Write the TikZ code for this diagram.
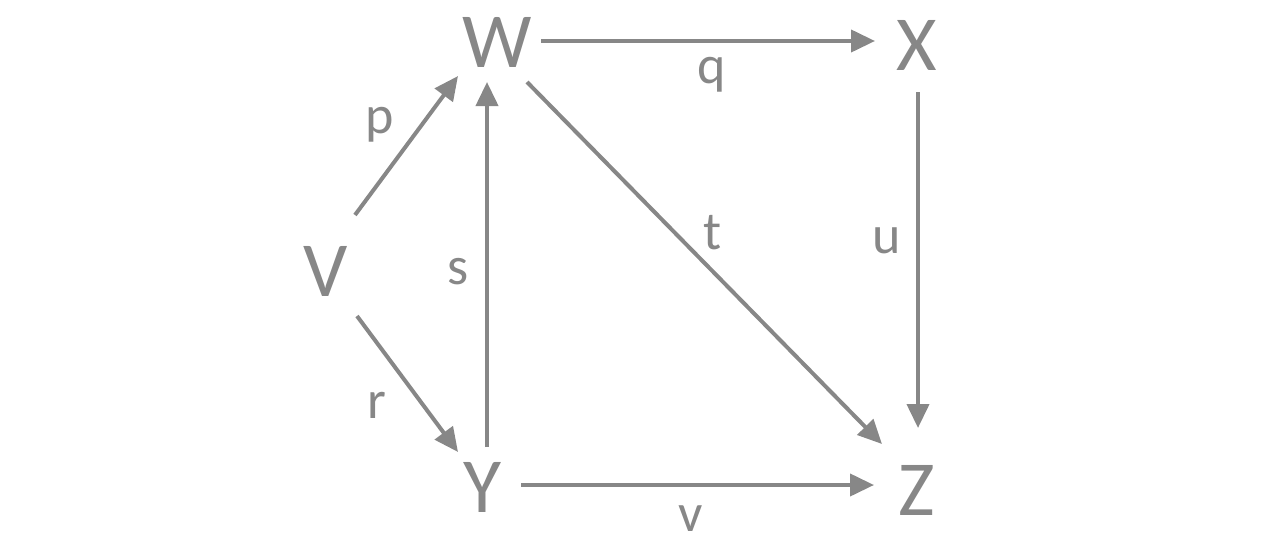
\documentclass[tikz,border=0pt]{standalone}
\usepackage{fontspec}
\setmainfont{Carlito}
\usetikzlibrary{arrows.meta,calc}
\definecolor{ink}{RGB}{135,135,135}
\begin{document}
\begin{tikzpicture}[x=1pt,y=-1pt,
  vert/.style={text=ink,inner sep=0pt,font=\fontsize{78}{80}\selectfont},
  lab/.style={text=ink,inner sep=0pt,font=\fontsize{54}{56}\selectfont},
  edge/.style={draw=ink,line width=4pt,-{Triangle[length=24pt,width=22pt]}}]
\useasboundingbox (0,0) rectangle (1274,546);
\node[vert] (W) at (497,42) {W};
\node[vert] (X) at (917,45) {X};
\node[vert] (V) at (326,271) {V};
\node[vert] (Y) at (482,487) {Y};
\node[vert] (Z) at (917,490) {Z};
\draw[edge] ($(V)+(29,-56)$) -- ($(W)+(-39,34)$);
\draw[edge] ($(V)+(31,45)$) -- ($(Y)+(-24,-35)$);
\draw[edge] ($(Y)+(5,-40)$) -- ($(W)+(-10,40)$);
\draw[edge] ($(W)+(44,-1)$) -- ($(X)+(-42,-4)$);
\draw[edge] ($(W)+(30,40)$) -- ($(Z)+(-35,-46)$);
\draw[edge] ($(X)+(1,47)$) -- ($(Z)+(1,-62)$);
\draw[edge] ($(Y)+(39,-2)$) -- ($(Z)+(-43,-5)$);
\node[lab] (lp) at (380,125) {p};
\node[lab] (lq) at (712,75) {q};
\node[lab] (lt) at (713,233) {t};
\node[lab] (ls) at (458,272) {s};
\node[lab] (lu) at (887,241) {u};
\node[lab] (lr) at (377,405) {r};
\node[lab] (lv) at (691,519) {v};
\end{tikzpicture}
\end{document}
